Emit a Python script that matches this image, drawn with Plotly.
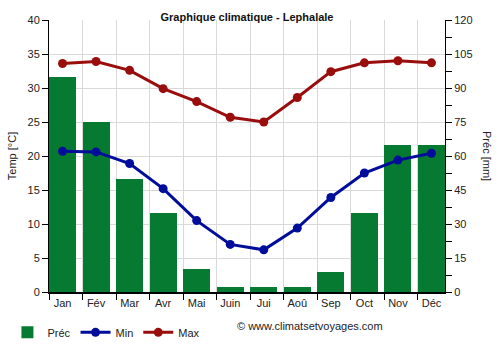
import plotly.graph_objects as go

months = ["Jan", "Fév", "Mar", "Avr", "Mai", "Juin", "Jui", "Aoû", "Sep", "Oct", "Nov", "Déc"]
prec_mm = [95, 75, 50, 35, 10, 2.2, 2.2, 2.2, 9, 35, 65, 65]
temp_min = [20.7, 20.6, 18.9, 15.2, 10.5, 7.0, 6.2, 9.4, 13.9, 17.5, 19.4, 20.4]
temp_max = [33.6, 33.9, 32.6, 29.9, 28.0, 25.7, 25.0, 28.6, 32.4, 33.7, 34.0, 33.7]

x = list(range(len(months)))
bar_w = 0.806
half = bar_w / 2
font = "Liberation Sans, Arial, sans-serif"

fig = go.Figure()
fig.add_trace(go.Bar(
    x=x, y=prec_mm, name="Préc", yaxis="y", width=bar_w,
    marker=dict(color="#067a30", line=dict(width=0)),
))
fig.add_trace(go.Scatter(
    x=x, y=temp_min, name="Min", yaxis="y2", mode="lines+markers",
    line=dict(color="#000d9a", width=3), marker=dict(size=9, color="#000d9a"),
))
fig.add_trace(go.Scatter(
    x=x, y=temp_max, name="Max", yaxis="y2", mode="lines+markers",
    line=dict(color="#9a0d0d", width=3), marker=dict(size=9, color="#9a0d0d"),
))

fig.update_layout(
    width=500, height=350,
    margin=dict(l=49, r=55, t=20, b=58, autoexpand=False),
    paper_bgcolor="white", plot_bgcolor="white",
    font=dict(family=font, size=11, color="#222"),
    title=dict(text="<b>Graphique climatique - Lephalale</b>", x=0.494, xanchor="center",
               y=0.952, yanchor="middle", font=dict(size=11, color="#111")),
    showlegend=True,
    legend=dict(orientation="h", x=-0.105, xanchor="left", y=-0.095, yanchor="top",
                font=dict(size=11, color="#222"), itemwidth=30, tracegroupgap=0),
    bargap=0,
    xaxis=dict(
        range=[-half, len(months) - 1 + half],
        tickmode="array", tickvals=x, ticktext=months,
        ticks="", showgrid=False, showline=True, linecolor="#000", linewidth=2,
        tickfont=dict(size=11, color="#222"),
        minor=dict(tickmode="linear", tick0=-half, dtick=1, ticks="outside", ticklen=6,
                   tickcolor="#000", showgrid=True, gridcolor="#d9d9d9", gridwidth=1),
        zeroline=False, fixedrange=True,
    ),
    yaxis=dict(
        side="right", range=[0, 120], dtick=15, showgrid=False,
        showline=True, linecolor="#000", linewidth=1,
        ticks="outside", ticklen=6, tickcolor="#000",
        minor=dict(dtick=7.5, ticks="outside", ticklen=6, tickcolor="#000", showgrid=False),
        tickfont=dict(size=11, color="#222"), zeroline=False,
    ),
    yaxis2=dict(
        side="left", overlaying="y", range=[0, 40], dtick=5,
        showgrid=True, gridcolor="#d9d9d9", gridwidth=1,
        showline=True, linecolor="#000", linewidth=1,
        ticks="outside", ticklen=6, tickcolor="#000",
        tickfont=dict(size=11, color="#222"), zeroline=False,
        title=dict(text="Temp [°C]", font=dict(size=11, color="#222"), standoff=8),
    ),
)

fig.add_annotation(text="Préc [mm]", xref="paper", yref="paper", x=1.106, y=0.5,
                   xanchor="center", yanchor="middle",
                   textangle=90, showarrow=False, font=dict(size=11, color="#222"))
fig.add_annotation(text="© www.climatsetvoyages.com", xref="paper", yref="paper",
                   x=0.47, xanchor="left", y=-0.125, yanchor="middle", showarrow=False,
                   font=dict(size=11, color="#222"))

fig.write_html("out.html")
